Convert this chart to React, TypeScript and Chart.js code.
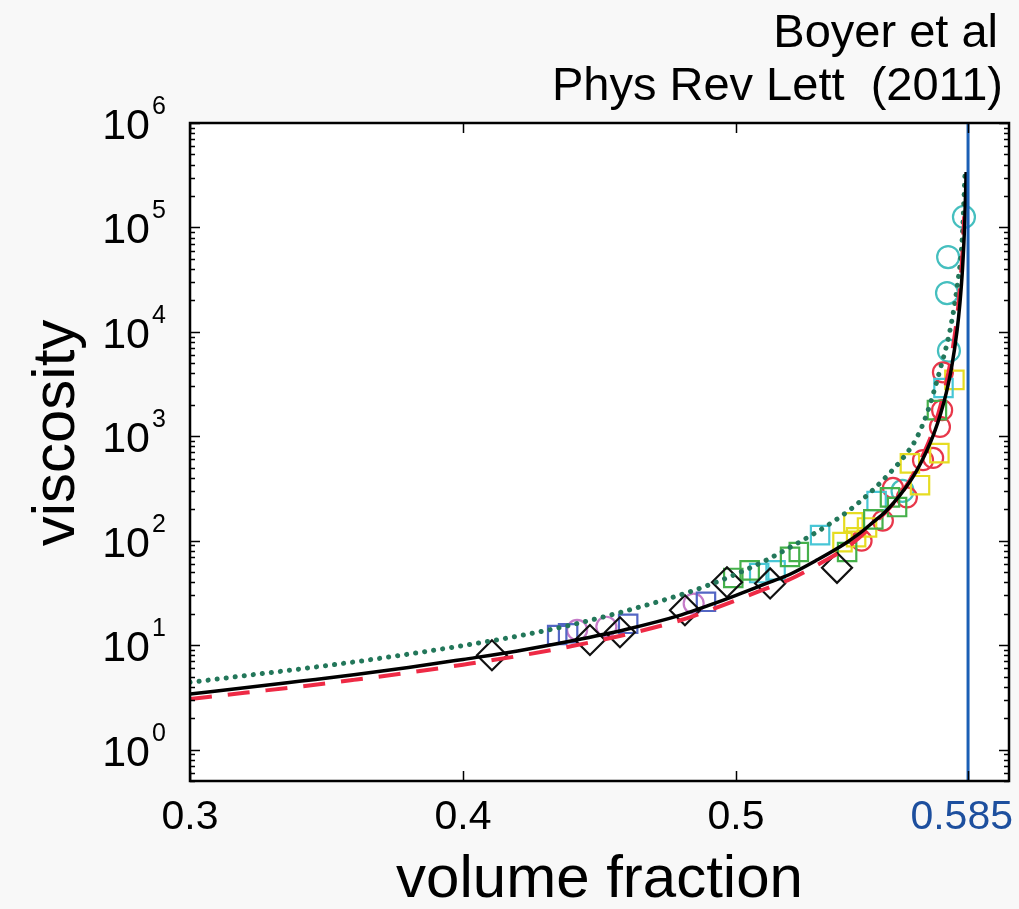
import React, { useEffect, useRef } from 'react';
import { Chart, registerables } from 'chart.js';

Chart.register(...registerables);

const FONT = "'Liberation Sans', Arial, Helvetica, sans-serif";

// Axis limits and ticks
const xMin = 0.3;
const xMax = 0.6;
const yMin = 0.5;
const yMax = 1e6;
const xTickValues = [0.3, 0.4, 0.5, 0.585];
const xTickLabels = ['0.3', '0.4', '0.5', '0.585'];
const yTickExponents = [0, 1, 2, 3, 4, 5, 6];
const jammingPhi = 0.585;

// Model curve (black solid)
const solidPhi = [0.3, 0.32, 0.34, 0.36, 0.38, 0.4, 0.42, 0.44, 0.46, 0.48, 0.49, 0.5, 0.51, 0.52, 0.53, 0.54, 0.545, 0.55, 0.555, 0.56, 0.565, 0.57, 0.5725, 0.575, 0.577, 0.579, 0.581, 0.582, 0.583, 0.5838, 0.5843];
const solidEta = [3.4, 3.9, 4.5, 5.2, 6.1, 7.3, 8.8, 11.0, 14.2, 19.5, 24, 30, 38, 48, 66, 94, 116, 149, 193, 272, 415, 740, 1060, 1660, 2590, 4600, 10400, 18500, 41500, 115000, 340000];

// Red dashed curve
const dashedPhi = [0.3, 0.32, 0.34, 0.36, 0.38, 0.4, 0.42, 0.44, 0.46, 0.48, 0.49, 0.5, 0.51, 0.52, 0.53, 0.54, 0.545, 0.55, 0.555, 0.56, 0.565, 0.57, 0.5725, 0.575, 0.577, 0.579, 0.581, 0.582, 0.583, 0.5836];
const dashedEta = [3.05, 3.5, 4.0, 4.65, 5.45, 6.5, 7.85, 9.8, 12.7, 17.4, 21.4, 26.8, 34, 43, 59, 84, 106, 142, 190, 272, 435, 810, 1200, 2000, 3240, 6000, 14000, 26000, 60000, 128000];

// Green dotted curve
const dottedPhi = [0.3, 0.32, 0.34, 0.36, 0.38, 0.4, 0.42, 0.44, 0.46, 0.48, 0.49, 0.5, 0.51, 0.52, 0.53, 0.538, 0.545, 0.5538, 0.5626, 0.566, 0.57, 0.5747, 0.5784, 0.581, 0.5828, 0.5839];
const dottedEta = [4.4, 5.1, 5.9, 6.9, 8.2, 9.9, 12.2, 15.7, 21.4, 30.5, 37.6, 47.9, 63, 87, 123, 168, 232, 380, 690, 945, 1670, 4300, 10400, 27000, 75000, 340000];

// Experimental markers
const diamondPhi = [0.4106, 0.4465, 0.4575, 0.4813, 0.4967, 0.5125, 0.537];
const diamondEta = [8.0, 11.2, 13.3, 21.6, 40, 39, 55];

const blueSqPhi = [0.4345, 0.4385, 0.4605, 0.489];
const blueSqEta = [12.5, 13, 16, 26];

const magentaPhi = [0.4418, 0.4525, 0.4845];
const magentaEta = [14, 15, 25];

const greenSqPhi = [0.499, 0.505, 0.5198, 0.523, 0.5407, 0.5503, 0.5564, 0.559, 0.5736];
const greenSqEta = [44, 52, 70, 78, 78, 160, 260, 210, 1780];

const cyanSqPhi = [0.5085, 0.5145, 0.5308, 0.5515, 0.576];
const cyanSqEta = [49, 52, 113, 240, 2900];

const yellowSqPhi = [0.539, 0.543, 0.544, 0.548, 0.5637, 0.5674, 0.5745, 0.58];
const yellowSqEta = [97, 150, 108, 134, 550, 340, 690, 3470];

const redCirPhi = [0.546, 0.5538, 0.5575, 0.5626, 0.5685, 0.5722, 0.5747, 0.5755, 0.5758];
const redCirEta = [100, 156, 320, 260, 590, 620, 1230, 1780, 4100];

const cyanCirPhi = [0.561, 0.578, 0.5773, 0.5777, 0.5835];
const cyanCirEta = [300, 6600, 23500, 52000, 126000];

const pts = (xs: number[], ys: number[]) => xs.map((x, i) => ({ x, y: ys[i] }));

const markerSet = (label: string, xs: number[], ys: number[], color: string, style: string, radius: number, order: number) => ({
  label,
  data: pts(xs, ys),
  showLine: false,
  pointStyle: style,
  pointRadius: radius,
  pointBorderColor: color,
  pointBackgroundColor: 'rgba(0,0,0,0)',
  pointBorderWidth: 2.2,
  order,
});

const decorPlugin = {
  id: 'decor',
  beforeDraw(chart: any) {
    const { ctx, chartArea: a, width, height } = chart;
    ctx.save();
    ctx.fillStyle = '#f8f8f8';
    ctx.fillRect(0, 0, width, height);
    ctx.fillStyle = '#ffffff';
    ctx.fillRect(a.left, a.top, a.right - a.left, a.bottom - a.top);
    ctx.restore();
  },
  afterDraw(chart: any) {
    const { ctx, chartArea: a } = chart;
    const xs = chart.scales.x;
    const ys = chart.scales.y;
    ctx.save();
    // frame
    ctx.strokeStyle = '#000';
    ctx.lineWidth = 2.5;
    ctx.strokeRect(a.left, a.top, a.right - a.left, a.bottom - a.top);
    // y ticks (log, major + minor) on both sides
    ctx.lineWidth = 1.5;
    ctx.beginPath();
    for (let e = Math.floor(Math.log10(yMin)); e <= Math.log10(yMax); e++) {
      for (let k = 1; k <= 9; k++) {
        const v = k * Math.pow(10, e);
        if (v < yMin || v > yMax) continue;
        const py = Math.round(ys.getPixelForValue(v)) + 0.5;
        const len = k === 1 ? 10 : 5;
        ctx.moveTo(a.left, py);
        ctx.lineTo(a.left + len, py);
        ctx.moveTo(a.right, py);
        ctx.lineTo(a.right - len, py);
      }
    }
    // x ticks bottom and top
    xTickValues.forEach((v) => {
      const px = Math.round(xs.getPixelForValue(v)) + 0.5;
      ctx.moveTo(px, a.bottom);
      ctx.lineTo(px, a.bottom - 10);
      ctx.moveTo(px, a.top);
      ctx.lineTo(px, a.top + 10);
    });
    ctx.stroke();

    // y tick labels 10^n
    ctx.fillStyle = '#000';
    yTickExponents.forEach((e) => {
      const py = ys.getPixelForValue(Math.pow(10, e));
      ctx.font = `43px ${FONT}`;
      ctx.textAlign = 'right';
      ctx.textBaseline = 'alphabetic';
      ctx.fillText('10', a.left - 40, py + 16);
      ctx.font = `25px ${FONT}`;
      ctx.textAlign = 'left';
      ctx.fillText(String(e), a.left - 38, py - 9);
    });

    // x tick labels
    ctx.font = `41px ${FONT}`;
    ctx.textAlign = 'center';
    ctx.textBaseline = 'alphabetic';
    xTickValues.forEach((v, i) => {
      let px = xs.getPixelForValue(v);
      const w = ctx.measureText(xTickLabels[i]).width;
      if (px + w / 2 > chart.width - 6) px = chart.width - 6 - w / 2;
      ctx.fillStyle = v === jammingPhi ? '#1d4f9e' : '#000';
      ctx.fillText(xTickLabels[i], px, a.bottom + 48);
    });

    // axis titles
    ctx.fillStyle = '#000';
    ctx.font = `60px ${FONT}`;
    ctx.textAlign = 'center';
    ctx.textBaseline = 'alphabetic';
    ctx.fillText('volume fraction', (a.left + a.right) / 2, 897);
    ctx.save();
    ctx.translate(74, 433);
    ctx.rotate(-Math.PI / 2);
    ctx.fillText('viscosity', 0, 0);
    ctx.restore();

    // reference annotation
    ctx.font = `47px ${FONT}`;
    ctx.textAlign = 'right';
    ctx.fillText('Boyer et al', 998, 47);
    ctx.fillText('Phys Rev Lett  (2011)', 1003, 100);
    ctx.restore();
  },
};

export default function App() {
  const ref = useRef<HTMLCanvasElement | null>(null);
  useEffect(() => {
    if (!ref.current) return;
    const chart = new Chart(ref.current, {
      type: 'scatter',
      data: {
        datasets: [
          {
            label: 'phi_c',
            data: [{ x: jammingPhi, y: yMin }, { x: jammingPhi, y: yMax }],
            showLine: true,
            borderColor: '#1b5fb5',
            borderWidth: 3,
            pointRadius: 0,
            order: 0,
          },
          {
            label: 'model',
            data: pts(solidPhi, solidEta),
            showLine: true,
            borderColor: '#000000',
            borderWidth: 3.5,
            pointRadius: 0,
            cubicInterpolationMode: 'monotone',
            order: 1,
          },
          {
            label: 'dashed',
            data: pts(dashedPhi, dashedEta),
            showLine: true,
            borderColor: '#ee2a45',
            borderWidth: 4,
            borderDash: [22, 16],
            pointRadius: 0,
            cubicInterpolationMode: 'monotone',
            order: 2,
          },
          {
            label: 'dotted',
            data: pts(dottedPhi, dottedEta),
            showLine: true,
            borderColor: '#23775a',
            borderWidth: 5,
            borderDash: [0.1, 9],
            borderCapStyle: 'round',
            pointRadius: 0,
            cubicInterpolationMode: 'monotone',
            order: 3,
          },
          markerSet('diamonds', diamondPhi, diamondEta, '#111111', 'rectRot', 15, 4),
          markerSet('blue squares', blueSqPhi, blueSqEta, '#5366c4', 'rect', 13, 5),
          markerSet('magenta circles', magentaPhi, magentaEta, '#c57ac8', 'circle', 10, 6),
          markerSet('green squares', greenSqPhi, greenSqEta, '#45b04a', 'rect', 13, 7),
          markerSet('cyan squares', cyanSqPhi, cyanSqEta, '#48c6d6', 'rect', 13, 8),
          markerSet('yellow squares', yellowSqPhi, yellowSqEta, '#e6dc22', 'rect', 13, 9),
          markerSet('red circles', redCirPhi, redCirEta, '#e8374a', 'circle', 10, 10),
          markerSet('cyan circles', cyanCirPhi, cyanCirEta, '#45bfbf', 'circle', 11, 11),
        ] as any,
      },
      options: {
        animation: false,
        responsive: false,
        devicePixelRatio: 1,
        layout: { autoPadding: false, padding: { left: 190, top: 123, right: 10, bottom: 128 } },
        plugins: { legend: { display: false }, tooltip: { enabled: false }, title: { display: false } },
        scales: {
          x: { type: 'linear', min: xMin, max: xMax, display: false },
          y: { type: 'logarithmic', min: yMin, max: yMax, display: false },
        },
      } as any,
      plugins: [decorPlugin],
    });
    return () => chart.destroy();
  }, []);
  return (
    <div style={{ position: 'absolute', left: 0, top: 0, width: 1019, height: 909 }}>
      <canvas ref={ref} width={1019} height={909} style={{ display: 'block', width: 1019, height: 909 }} />
    </div>
  );
}
